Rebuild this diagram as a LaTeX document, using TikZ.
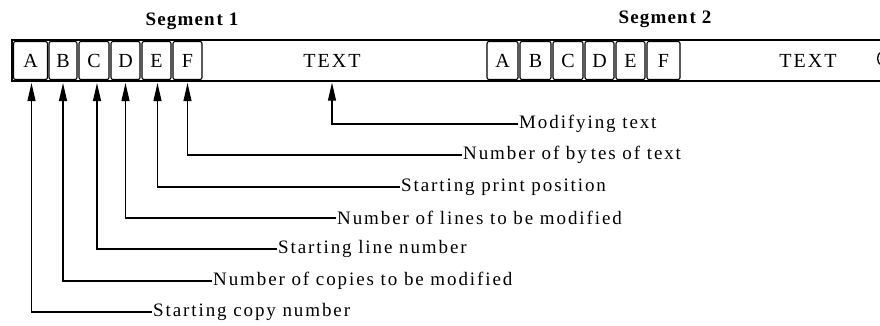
\documentclass[tikz,border=0pt]{standalone}
\usepackage{fontspec}
\setmainfont{Liberation Serif}
\newfontfamily\lblfont[LetterSpace=10]{Liberation Serif}
\newfontfamily\segfont[LetterSpace=6]{Liberation Serif}
\usetikzlibrary{arrows.meta}
\begin{document}
\begin{tikzpicture}[x=1pt,y=-1pt,
  cell/.style={draw, line width=1.1pt, rounded corners=2pt, minimum height=38pt, inner sep=0pt, font=\fontsize{20}{20}\selectfont},
  field/.style={minimum height=38pt, inner sep=0pt, font=\lblfont\fontsize{20}{20}\selectfont},
  lbl/.style={anchor=west, inner sep=1pt, font=\lblfont\fontsize{19}{19}\selectfont},
  seg/.style={font=\segfont\bfseries\fontsize{19}{19}\selectfont},
  arr/.style={line width=1.1pt, shorten >=3pt, -{Triangle[length=18pt,width=8pt]}},
]
\useasboundingbox (0,0) rectangle (880,325);
\clip (0,0) rectangle (880,325);
% outer strip
\draw[line width=1.4pt] (12,40) rectangle (900,81);
% segment 1
\node[cell, minimum width=34pt] (a1) at (30.5,60.5) {A};
\node[cell, minimum width=28pt] (b1) at (63,60.5) {B};
\node[cell, minimum width=30pt] (c1) at (94,60.5) {C};
\node[cell, minimum width=29pt] (d1) at (125.5,60.5) {D};
\node[cell, minimum width=29pt] (e1) at (156.5,60.5) {E};
\node[cell, minimum width=29pt] (f1) at (187.5,60.5) {F};
\node[field] (t1) at (332,60.5) {TEXT};
% segment 2
\node[cell, minimum width=31pt] (a2) at (502.5,60.5) {A};
\node[cell, minimum width=31pt] (b2) at (535.5,60.5) {B};
\node[cell, minimum width=30pt] (c2) at (568,60.5) {C};
\node[cell, minimum width=29pt] (d2) at (599.5,60.5) {D};
\node[cell, minimum width=29pt] (e2) at (630.5,60.5) {E};
\node[cell, minimum width=33pt] (f2) at (663.5,60.5) {F};
\node[field] (t2) at (808,60.5) {TEXT};
% cut-off glyph at the right edge
\draw[line width=1.3pt] (881,52) .. controls (876.5,54) and (876.5,63) .. (881,65);
% segment titles
\node[seg] (s1) at (192,21) {Segmen\hspace{2pt}t 1};
\node[seg] (s2) at (665,19) {Segmen\hspace{2pt}t 2};
% labels
\node[lbl] (lm) at (518,124) {Modifying text};
\node[lbl] (lf) at (462,155) {Number of by\hspace{4pt}tes of text};
\node[lbl] (le) at (400,187) {Starting print position};
\node[lbl] (ld) at (336,218) {Number of lines to be modified};
\node[lbl] (lc) at (277,249) {Starting line number};
\node[lbl] (lb) at (212,281) {Number of copies to be modified};
\node[lbl] (la) at (152,312) {Starting copy number};
% connectors
\draw[arr] (lm.west) -| (t1.south);
\draw[arr] (lf.west) -| (f1.south);
\draw[arr] (le.west) -| ([xshift=1pt]e1.south);
\draw[arr] (ld.west) -| (d1.south);
\draw[arr] (lc.west) -| ([xshift=3pt]c1.south);
\draw[arr] (lb.west) -| (b1.south);
\draw[arr] (la.west) -| ([xshift=1pt]a1.south);
\end{tikzpicture}
\end{document}
